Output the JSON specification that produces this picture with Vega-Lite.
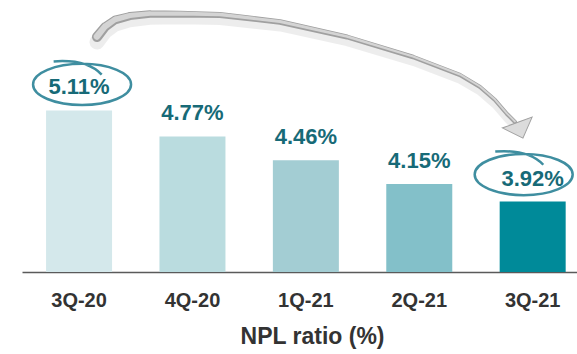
{
  "$schema": "https://vega.github.io/schema/vega-lite/v6.json",
  "width": 555,
  "height": 268,
  "autosize": {"type": "none"},
  "padding": {"left": 22, "top": 4, "right": 0, "bottom": 82},
  "background": "#ffffff",
  "config": {
    "view": {"stroke": null},
    "font": "Liberation Sans, Arial, sans-serif"
  },
  "datasets": {
    "npl": [
      {"period": "3Q-20", "value": 5.11},
      {"period": "4Q-20", "value": 4.77},
      {"period": "1Q-21", "value": 4.46},
      {"period": "2Q-21", "value": 4.15},
      {"period": "3Q-21", "value": 3.92}
    ],
    "trendArrow": [
      {"pos": 0.158, "val": 6.069},
      {"pos": 0.229, "val": 6.2},
      {"pos": 0.317, "val": 6.291},
      {"pos": 0.449, "val": 6.343},
      {"pos": 0.626, "val": 6.369},
      {"pos": 0.89, "val": 6.369},
      {"pos": 1.243, "val": 6.356},
      {"pos": 1.772, "val": 6.265},
      {"pos": 2.363, "val": 6.069},
      {"pos": 2.945, "val": 5.808},
      {"pos": 3.359, "val": 5.573},
      {"pos": 3.536, "val": 5.416},
      {"pos": 3.668, "val": 5.246},
      {"pos": 3.774, "val": 5.063},
      {"pos": 3.844, "val": 4.959}
    ],
    "arrowTip": [
      {"pos": 3.888, "val": 4.855}
    ]
  },
  "layer": [
    {
      "data": {"name": "npl"},
      "transform": [
        {"calculate": "format(datum.value, '.2f') + '%'", "as": "label"}
      ],
      "encoding": {
        "x": {
          "field": "period",
          "type": "nominal",
          "sort": null,
          "scale": {"paddingInner": 0.418, "paddingOuter": 0.156, "align": 0.68},
          "axis": {
            "title": "NPL ratio (%)",
            "labelAngle": 0,
            "ticks": false,
            "domain": true,
            "domainColor": "#5a5a5a",
            "domainWidth": 1.5,
            "labelFontSize": 20,
            "labelFontWeight": "bold",
            "labelColor": "#333333",
            "labelPadding": 18,
            "titleFontSize": 23,
            "titleFontWeight": "bold",
            "titleColor": "#333333",
            "titlePadding": 15,
            "titleX": 290
          }
        },
        "y": {
          "field": "value",
          "type": "quantitative",
          "scale": {"domain": [3, 6.5], "nice": false, "zero": false},
          "axis": null
        }
      },
      "layer": [
        {
          "mark": {"type": "bar"},
          "encoding": {
            "y2": {"datum": 3},
            "color": {
              "field": "period",
              "type": "nominal",
              "sort": null,
              "scale": {"range": ["#d4e8eb", "#badcdf", "#a3cdd3", "#83c0c9", "#008a99"]},
              "legend": null
            }
          }
        },
        {
          "mark": {
            "type": "text",
            "baseline": "alphabetic",
            "align": "center",
            "dy": -16,
            "fontSize": 22,
            "fontWeight": "bold",
            "color": "#176a77"
          },
          "encoding": {"text": {"field": "label"}}
        },
        {
          "transform": [{"filter": {"field": "period", "equal": "3Q-20"}}],
          "mark": {
            "type": "point",
            "shape": "M-1,0A1,0.42 0 1,1 1,0A1,0.42 0 1,1 -1,0M-0.58,-0.47Q0.1,-0.52 0.4,-0.2",
            "size": 9604,
            "filled": false,
            "stroke": "#3f8ea0",
            "strokeWidth": 2.5,
            "opacity": 1,
            "xOffset": 3,
            "yOffset": -26
          }
        },
        {
          "transform": [{"filter": {"field": "period", "equal": "3Q-21"}}],
          "mark": {
            "type": "point",
            "shape": "M-1,0A1,0.42 0 1,1 1,0A1,0.42 0 1,1 -1,0M-0.58,-0.47Q0.1,-0.52 0.4,-0.2",
            "size": 9604,
            "filled": false,
            "stroke": "#3f8ea0",
            "strokeWidth": 2.5,
            "opacity": 1,
            "xOffset": -9,
            "yOffset": -27
          }
        }
      ]
    },
    {
      "data": {"name": "trendArrow"},
      "encoding": {
        "x": {
          "field": "pos",
          "type": "quantitative",
          "scale": {"domain": [-0.503, 4.391], "nice": false, "zero": false},
          "axis": null
        },
        "y": {
          "field": "val",
          "type": "quantitative",
          "scale": {"domain": [3, 6.5], "nice": false, "zero": false},
          "axis": null
        }
      },
      "layer": [
        {
          "mark": {"type": "trail", "color": "#000000", "opacity": 0.07, "yOffset": 5},
          "encoding": {
            "size": {"field": "pos", "type": "quantitative", "scale": {"type": "log", "domain": [0.158, 3.844], "range": [15, 7]}, "legend": null}
          }
        },
        {
          "mark": {"type": "trail", "color": "#a0a0a0"},
          "encoding": {
            "size": {"field": "pos", "type": "quantitative", "scale": {"type": "log", "domain": [0.158, 3.844], "range": [10, 4]}, "legend": null}
          }
        },
        {
          "mark": {"type": "trail", "color": "#d4d4d4", "yOffset": -0.5},
          "encoding": {
            "size": {"field": "pos", "type": "quantitative", "scale": {"type": "log", "domain": [0.158, 3.844], "range": [6.5, 1.8]}, "legend": null}
          }
        }
      ],
      "resolve": {"scale": {"size": "independent"}}
    },
    {
      "data": {"name": "arrowTip"},
      "mark": {
        "type": "point",
        "shape": "M-0.5,-1L0.55,0L-0.5,1Z",
        "size": 1000,
        "angle": 70,
        "filled": true,
        "fill": "#dcdcdc",
        "stroke": "#a0a0a0",
        "strokeWidth": 1,
        "opacity": 1
      },
      "encoding": {
        "x": {
          "field": "pos",
          "type": "quantitative",
          "scale": {"domain": [-0.503, 4.391], "nice": false, "zero": false},
          "axis": null
        },
        "y": {
          "field": "val",
          "type": "quantitative",
          "scale": {"domain": [3, 6.5], "nice": false, "zero": false},
          "axis": null
        }
      }
    }
  ],
  "resolve": {"scale": {"x": "independent", "size": "independent"}}
}
